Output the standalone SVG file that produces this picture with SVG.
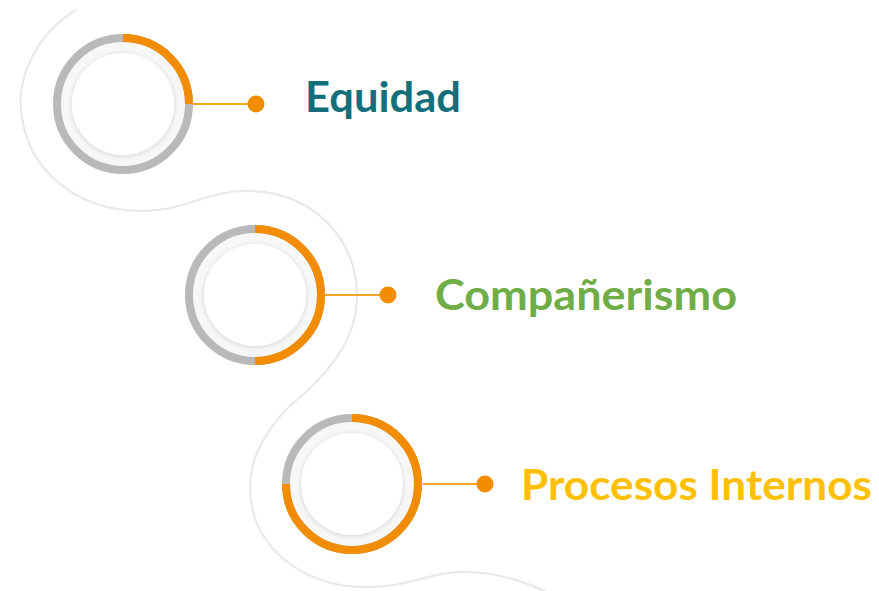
<svg xmlns="http://www.w3.org/2000/svg" width="879" height="591" viewBox="0 0 879 591">
<style>
.bg{fill:#fff}
.wave{fill:none;stroke:#e9e9e9;stroke-width:2.2}
.track{fill:none;stroke:#b9b9b9;stroke-width:8}
.prog{fill:none;stroke:#f28c00;stroke-width:8}
.gap{fill:#f7f7f7}
.inner{fill:#fff;filter:url(#sh)}
.link{stroke:#f6a623;stroke-width:2}
.dot{fill:#f28c00}
.lbl{font-family:Lato,"Open Sans",sans-serif;font-weight:700;font-size:42px}
</style>
<defs>
<filter id="sh" x="-30%" y="-30%" width="160%" height="160%">
<feDropShadow dx="0" dy="1" stdDeviation="2.5" flood-color="#000" flood-opacity="0.15"/>
</filter>
</defs>
<rect class="bg" width="879" height="591"/>
<g id="connectors">
<path class="wave" d="M76,10 C35,35 15,80 22,118 C30,170 75,210 140,211 C185,212 205,190 250,191 C315,193 357,240 357,295 C357,335 335,365 305,393 C270,420 250,455 250,487 C250,545 300,585 360,587 C410,589 430,570 470,572 C500,573 525,582 545,591"/>
<line class="link" x1="193" y1="104" x2="256" y2="104"/>
<line class="link" x1="325" y1="295" x2="388" y2="295"/>
<line class="link" x1="423" y1="484" x2="485" y2="484"/>
</g>
<g id="node-equidad">
<circle class="gap" cx="123" cy="104" r="62"/>
<circle class="inner" cx="123" cy="104" r="51"/>
<circle class="track" cx="123" cy="104" r="66"/>
<path class="prog" d="M123,38 A66,66 0 0 1 189,104"/>
<circle class="dot" cx="256" cy="104" r="8.5"/>
<text class="lbl" x="305" y="112" fill="#136f7a" textLength="156" lengthAdjust="spacingAndGlyphs">Equidad</text>
</g>
<g id="node-companerismo">
<circle class="gap" cx="255" cy="295" r="62"/>
<circle class="inner" cx="255" cy="295" r="51"/>
<circle class="track" cx="255" cy="295" r="66"/>
<path class="prog" d="M255,229 A66,66 0 0 1 255,361"/>
<circle class="dot" cx="388" cy="295" r="8.5"/>
<text class="lbl" x="435" y="310" fill="#70ad47" textLength="302" lengthAdjust="spacingAndGlyphs">Compañerismo</text>
</g>
<g id="node-procesos">
<circle class="gap" cx="352" cy="484" r="62"/>
<circle class="inner" cx="352" cy="484" r="51"/>
<circle class="track" cx="352" cy="484" r="66"/>
<path class="prog" d="M352,418 A66,66 0 1 1 286,484"/>
<circle class="dot" cx="485" cy="484" r="8.5"/>
<text class="lbl" x="521" y="500" fill="#ffc000" textLength="351" lengthAdjust="spacingAndGlyphs">Procesos Internos</text>
</g>
</svg>
